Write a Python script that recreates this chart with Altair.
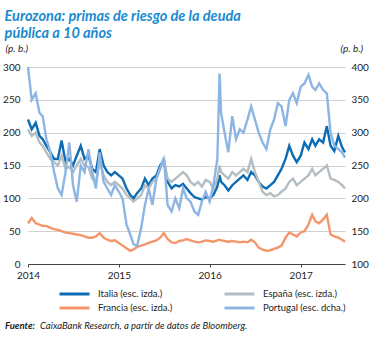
import altair as alt
import pandas as pd

dates = [
    "2014-01-01","2014-01-16","2014-02-01","2014-02-16","2014-03-01","2014-03-16","2014-04-01","2014-04-16",
    "2014-05-01","2014-05-16","2014-06-01","2014-06-16","2014-07-01","2014-07-16","2014-08-01","2014-08-16",
    "2014-09-01","2014-09-16","2014-10-01","2014-10-16","2014-11-01","2014-11-16","2014-12-01","2014-12-16",
    "2015-01-01","2015-01-16","2015-02-01","2015-02-16","2015-03-01","2015-03-16","2015-04-01","2015-04-16",
    "2015-05-01","2015-05-16","2015-06-01","2015-06-16","2015-07-01","2015-07-16","2015-08-01","2015-08-16",
    "2015-09-01","2015-09-16","2015-10-01","2015-10-16","2015-11-01","2015-11-16","2015-12-01","2015-12-16",
    "2016-01-01","2016-01-16","2016-02-01","2016-02-10","2016-02-16","2016-03-01","2016-03-16","2016-04-01",
    "2016-04-16","2016-05-01","2016-05-16","2016-06-01","2016-06-16","2016-07-01","2016-07-16","2016-08-01",
    "2016-08-16","2016-09-01","2016-09-16","2016-10-01","2016-10-16","2016-11-01","2016-11-16","2016-12-01",
    "2016-12-16","2017-01-01","2017-01-16","2017-02-01","2017-02-16","2017-03-01","2017-03-16","2017-04-01",
    "2017-04-16","2017-05-01","2017-05-16","2017-06-01","2017-06-16","2017-06-28",
]

italia = [
    220,205,215,195,190,180,170,160,160,188,155,160,150,165,180,160,165,145,140,175,150,140,135,140,
    135,130,115,105,100,108,115,130,120,130,135,150,158,125,115,120,118,122,115,108,102,100,98,102,
    100,105,118,135,125,120,112,120,125,130,135,128,140,135,125,118,115,120,125,135,145,160,180,165,
    155,165,185,175,190,180,190,185,210,180,172,195,178,170,
]

espana = [
    205,195,200,185,180,170,160,155,150,165,145,148,140,150,160,150,148,130,125,155,135,125,120,125,
    120,115,105,100,95,100,105,120,115,125,130,145,160,130,125,130,135,140,135,125,120,125,118,128,
    125,115,130,150,140,135,130,140,135,140,145,140,160,140,125,110,105,108,103,105,110,115,125,130,
    120,125,130,135,145,135,140,145,150,130,128,125,120,115,
]

francia = [
    62,70,62,60,58,58,55,53,52,50,48,47,46,45,44,42,40,40,42,47,40,37,35,36,
    32,28,24,20,22,26,28,30,32,34,36,40,47,38,33,32,35,36,38,36,34,33,34,36,
    35,34,36,37,36,35,34,35,34,33,34,33,37,33,25,22,20,21,23,25,28,40,48,45,
    42,48,50,60,75,65,62,68,75,45,42,40,37,34,
]

# Portugal is read on the right-hand scale (100-400)
portugal = [
    400,350,360,330,325,290,270,240,215,205,240,285,220,195,250,240,275,240,215,270,225,215,205,220,
    210,200,160,145,130,128,155,190,215,190,230,245,262,190,180,200,185,215,200,195,180,175,195,210,
    195,220,260,390,330,300,270,325,290,305,300,320,340,320,300,285,275,305,320,345,340,310,350,360,
    345,370,375,388,370,365,375,365,360,300,280,275,270,262,
]

series_order = ["Italia (esc. izda.)", "España (esc. izda.)", "Francia (esc. izda.)", "Portugal (esc. dcha.)"]
colors = ["#0b6cb5", "#b3bdc2", "#f4966a", "#8db5e4"]

rows = []
for d, i, e, f in zip(dates, italia, espana, francia):
    rows.append({"fecha": d, "serie": series_order[0], "valor": i})
    rows.append({"fecha": d, "serie": series_order[1], "valor": e})
    rows.append({"fecha": d, "serie": series_order[2], "valor": f})
left_df = pd.DataFrame(rows)
right_df = pd.DataFrame({"fecha": dates, "serie": series_order[3], "valor": portugal})

FONT = "Lato"

xenc = alt.X(
    "fecha:T",
    scale=alt.Scale(domain=["2014-01-01", "2017-06-28"]),
    axis=alt.Axis(
        title=None, format="%Y", tickCount={"interval": "year", "step": 1},
        grid=False, domainColor="#444", tickColor="#444", tickSize=3,
        labelColor="#222", labelFontSize=10, labelFont=FONT, labelPadding=3,
        labelFlush=False,
    ),
)

color = alt.Color(
    "serie:N",
    scale=alt.Scale(domain=series_order, range=colors),
    legend=alt.Legend(
        title=None, orient="none", legendX=30, legendY=220, columns=2, direction="horizontal",
        symbolType="M-1,0H1", symbolSize=900, symbolStrokeWidth=3, clipHeight=14,
        labelFont=FONT, labelFontSize=9.5, labelColor="#222",
        columnPadding=50, rowPadding=0, labelOffset=7,
    ),
)

left = alt.Chart(left_df).mark_line(strokeWidth=2.4).encode(
    x=xenc,
    y=alt.Y(
        "valor:Q",
        scale=alt.Scale(domain=[0, 300]),
        axis=alt.Axis(
            values=[0, 50, 100, 150, 200, 250, 300], domain=False, ticks=False,
            gridColor="#d0d0d0", labelColor="#222", labelFontSize=10, labelFont=FONT,
            labelPadding=8, title="(p. b.)", titleAngle=0, titleAlign="left",
            titleX=-23, titleY=-14, titleFont=FONT, titleFontStyle="italic",
            titleFontWeight="normal", titleFontSize=10, titleColor="#222",
        ),
    ),
    color=color,
    order=alt.Order("fecha:T"),
)

right = alt.Chart(right_df).mark_line(strokeWidth=2.4).encode(
    x=xenc,
    y=alt.Y(
        "valor:Q",
        scale=alt.Scale(domain=[100, 400]),
        axis=alt.Axis(
            orient="right", values=[100, 150, 200, 250, 300, 350, 400], domain=False,
            ticks=False, grid=False, labelColor="#222", labelFontSize=10, labelFont=FONT,
            labelPadding=6, title="(p. b.)", titleAngle=0, titleAlign="left",
            titleX=-5, titleY=-14, titleFont=FONT, titleFontStyle="italic",
            titleFontWeight="normal", titleFontSize=10, titleColor="#222",
        ),
    ),
    color=color,
)

src = pd.DataFrame({"a": ["Fuente:"], "b": ["CaixaBank Research, a partir de datos de Bloomberg."]})
src_bold = alt.Chart(src).mark_text(
    align="left", baseline="alphabetic", font=FONT, fontSize=9.5, fontWeight="bold",
    fontStyle="italic", color="#222",
).encode(text="a:N", x=alt.value(-23), y=alt.value(262))
src_rest = alt.Chart(src).mark_text(
    align="left", baseline="alphabetic", font=FONT, fontSize=9.5, fontStyle="italic", color="#222",
).encode(text="b:N", x=alt.value(12), y=alt.value(262))

chart = alt.layer(left, right, src_bold, src_rest).resolve_scale(y="independent").properties(
    width=317, height=197,
    autosize=alt.AutoSizeParams(type="none"),
    padding={"left": 28, "top": 67, "right": 30, "bottom": 74},
    title=alt.Title(
        ["Eurozona: primas de riesgo de la deuda", "pública a 10 años"],
        anchor="start", dx=2, dy=32, offset=20, font=FONT, fontSize=14.5, fontWeight="bold",
        fontStyle="italic", color="#1a8ad0", lineHeight=16.5, baseline="bottom",
    ),
).configure_view(stroke=None)

chart.save("out.html", embed_options={"renderer": "svg", "actions": False})
